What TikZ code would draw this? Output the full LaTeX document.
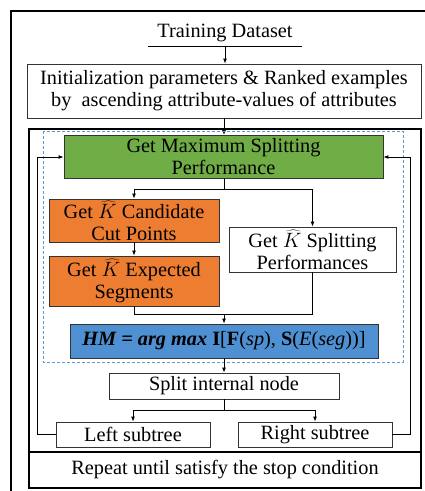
\documentclass[tikz,border=0pt]{standalone}
\usepackage{fontspec}
\setmainfont{Liberation Serif}
\usetikzlibrary{arrows.meta,positioning}
\definecolor{gfill}{HTML}{70AD47}
\definecolor{ofill}{HTML}{ED7D31}
\definecolor{bfill}{HTML}{4F90D2}
\definecolor{dblue}{HTML}{5B9BD5}
\newcommand{\dfont}{\fontsize{20.3}{22}\selectfont}
\tikzset{
  box/.style={draw=black!80, line width=0.8pt, inner sep=0pt, align=center, font=\dfont},
  arr/.style={-{Latex[length=5pt,width=4pt]}, line width=0.9pt},
  ln/.style={line width=0.9pt},
}
\begin{document}
\begin{tikzpicture}[x=1pt,y=-1pt]
\useasboundingbox (0,0) rectangle (425,491);
% outer frame (cropped)
\draw[line width=1.3pt] (11,491) -- (11,11) -- (425,11);
% training dataset
\node[font=\dfont, inner sep=0pt] (td) at (225,33) {Training Dataset};
\draw[ln] (148,46) -- (302,46) coordinate (tdl);
\coordinate (tdc) at (225,46);
% init box
\node[box, minimum width=394pt, minimum height=54pt] (init) at (224,91) {Initialization parameters \& Ranked examples\\by\ \ ascending attribute-values of attributes};
\draw[arr] (tdc) -- (init.north -| tdc);
% main frame
\draw[line width=1.6pt] (29,129) rectangle (421,488);
\draw[line width=1.3pt] (29,452) -- (421,452);
\node[font=\dfont, inner sep=0pt] (rep) at (225,470) {Repeat until satisfy the stop condition};
\coordinate (mtop) at (224,129);
\draw[arr] (init.south -| mtop) -- (224,135);
% dashed region
\draw[dblue, line width=0.8pt, dash pattern=on 3pt off 2pt] (43,131) rectangle (403,362);
% green
\node[box, fill=gfill, minimum width=319pt, minimum height=43pt] (gm) at (223.5,156.5) {Get Maximum Splitting\\Performance};
% orange boxes
\node[box, fill=ofill, minimum width=170pt, minimum height=43pt] (o1) at (134,220.5) {Get $\widehat{K}$ Candidate\\Cut Points};
\node[box, fill=ofill, minimum width=170pt, minimum height=50pt] (o2) at (134,281) {Get $\widehat{K}$ Expected\\Segments};
\node[box, fill=white, minimum width=167pt, minimum height=45pt] (sp) at (312.5,249.5) {Get $\widehat{K}$ Splitting\\Performances};
% blue
\node[box, fill=bfill, minimum width=308pt, minimum height=34pt] (hm) at (224,341) {\textbf{\textit{HM = arg max}} \textbf{I}[\textbf{F}(\textit{sp}), \textbf{S}(\textit{E}(\textit{seg}))]};
% split
\node[box, minimum width=230pt, minimum height=26pt] (si) at (224,386) {Split internal node};
\node[box, minimum width=154pt, minimum height=25pt] (ls) at (133,434.5) {Left subtree};
\node[box, minimum width=154pt, minimum height=25pt] (rs) at (315,434.5) {Right subtree};
% arrows green -> orange/white
\coordinate (g1) at (224,189);
\draw[ln] (gm.south -| g1) -- (g1);
\draw[arr] (g1) -| (o1.north);
\draw[arr] (g1) -| (sp.north);
\draw[arr] (o1) -- (o2);
\coordinate (j1) at (224,314);
\draw[ln] (o2.south) |- (j1);
\draw[ln] (sp.south) |- (j1);
\draw[arr] (j1) -- (hm.north -| j1);
\draw[arr] (hm.south -| j1) -- (si.north -| j1);
\coordinate (j2) at (224,410);
\draw[ln] (si.south -| j2) -- (j2);
\draw[arr] (j2) -| (ls.north);
\draw[arr] (j2) -| (rs.north);
% feedback
\coordinate (fl) at (37,157);
\coordinate (fr) at (410,157);
\draw[arr] (ls.west) -| (fl) -- (gm.west |- fl);
\draw[arr] (rs.east) -| (fr) -- (gm.east |- fr);
\end{tikzpicture}
\end{document}
